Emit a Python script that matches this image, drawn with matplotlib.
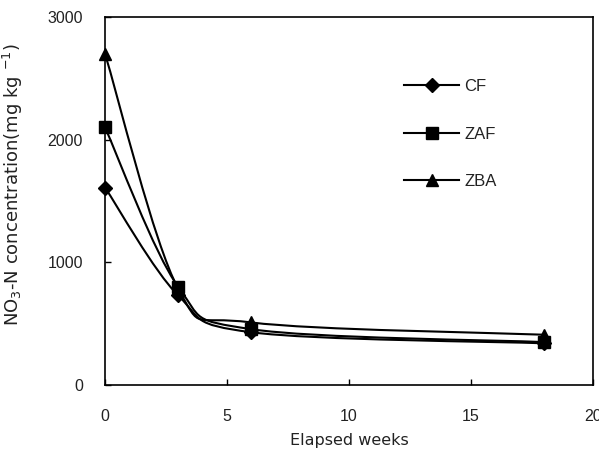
import matplotlib
matplotlib.use('Agg')
import matplotlib.pyplot as plt
import numpy as np
from matplotlib.path import Path
from matplotlib.patches import PathPatch

weeks = [0, 3, 6, 18]
series_names = ['CF', 'ZAF', 'ZBA']
cf = [1610, 730, 430, 340]
zaf = [2100, 800, 455, 350]
zba = [2700, 785, 510, 410]
markers = ['D', 's', '^']


def smooth_path(x, y):
    # Excel style smoothed line: cubic bezier, control points from neighbours
    p = np.column_stack([x, y]).astype(float)
    ext = np.vstack([p[0], p, p[-1]])
    verts = [p[0]]
    codes = [Path.MOVETO]
    for i in range(len(p) - 1):
        a, b, c, d = ext[i], ext[i + 1], ext[i + 2], ext[i + 3]
        verts += [b + (c - a) / 6, c - (d - b) / 6, c]
        codes += [Path.CURVE4] * 3
    return Path(verts, codes)


plt.rcParams['font.family'] = ['Liberation Sans', 'DejaVu Sans']
fig = plt.figure(figsize=(5.99, 4.51), dpi=100)
ax = fig.add_axes([0.1753, 0.1463, 0.8147, 0.816])

for name, vals, m in zip(series_names, [cf, zaf, zba], markers):
    ax.add_patch(PathPatch(smooth_path(weeks, vals), fill=False, lw=1.5, ec='black'))
    ms = 7 if m == 'D' else 8.5
    ax.plot(weeks, vals, ls='none', marker=m, ms=ms, color='black', clip_on=False)
    ax.plot([], [], color='black', lw=1.5, marker=m, ms=ms, label=name)

ax.set_xlim(0, 20)
ax.set_ylim(0, 3000)
ax.set_xticks([0, 5, 10, 15, 20])
ax.set_yticks([0, 1000, 2000, 3000])
ax.tick_params(direction='in', length=4, width=1, labelsize=11.5, colors='black',
               labelcolor='#222222')
ax.tick_params(axis='x', pad=17)
ax.tick_params(axis='y', pad=16)
for s in ax.spines.values():
    s.set_linewidth(1.2)

ax.set_xlabel('Elapsed weeks', fontsize=11.5, family='DejaVu Sans', labelpad=7,
              color='#222222')
ax.set_ylabel(r'NO$_3$-N concentration(mg kg $^{-1}$)', fontsize=13,
              family='DejaVu Sans', color='#222222')
ax.yaxis.set_label_coords(-0.164, 0.545)

leg = ax.legend(loc='upper left', bbox_to_anchor=(0.582, 0.872), frameon=False,
                fontsize=12, handlelength=3.3, labelspacing=1.95, handletextpad=0.3)
for t in leg.get_texts():
    t.set_color('#222222')

fig.savefig('out.png', dpi=100)
